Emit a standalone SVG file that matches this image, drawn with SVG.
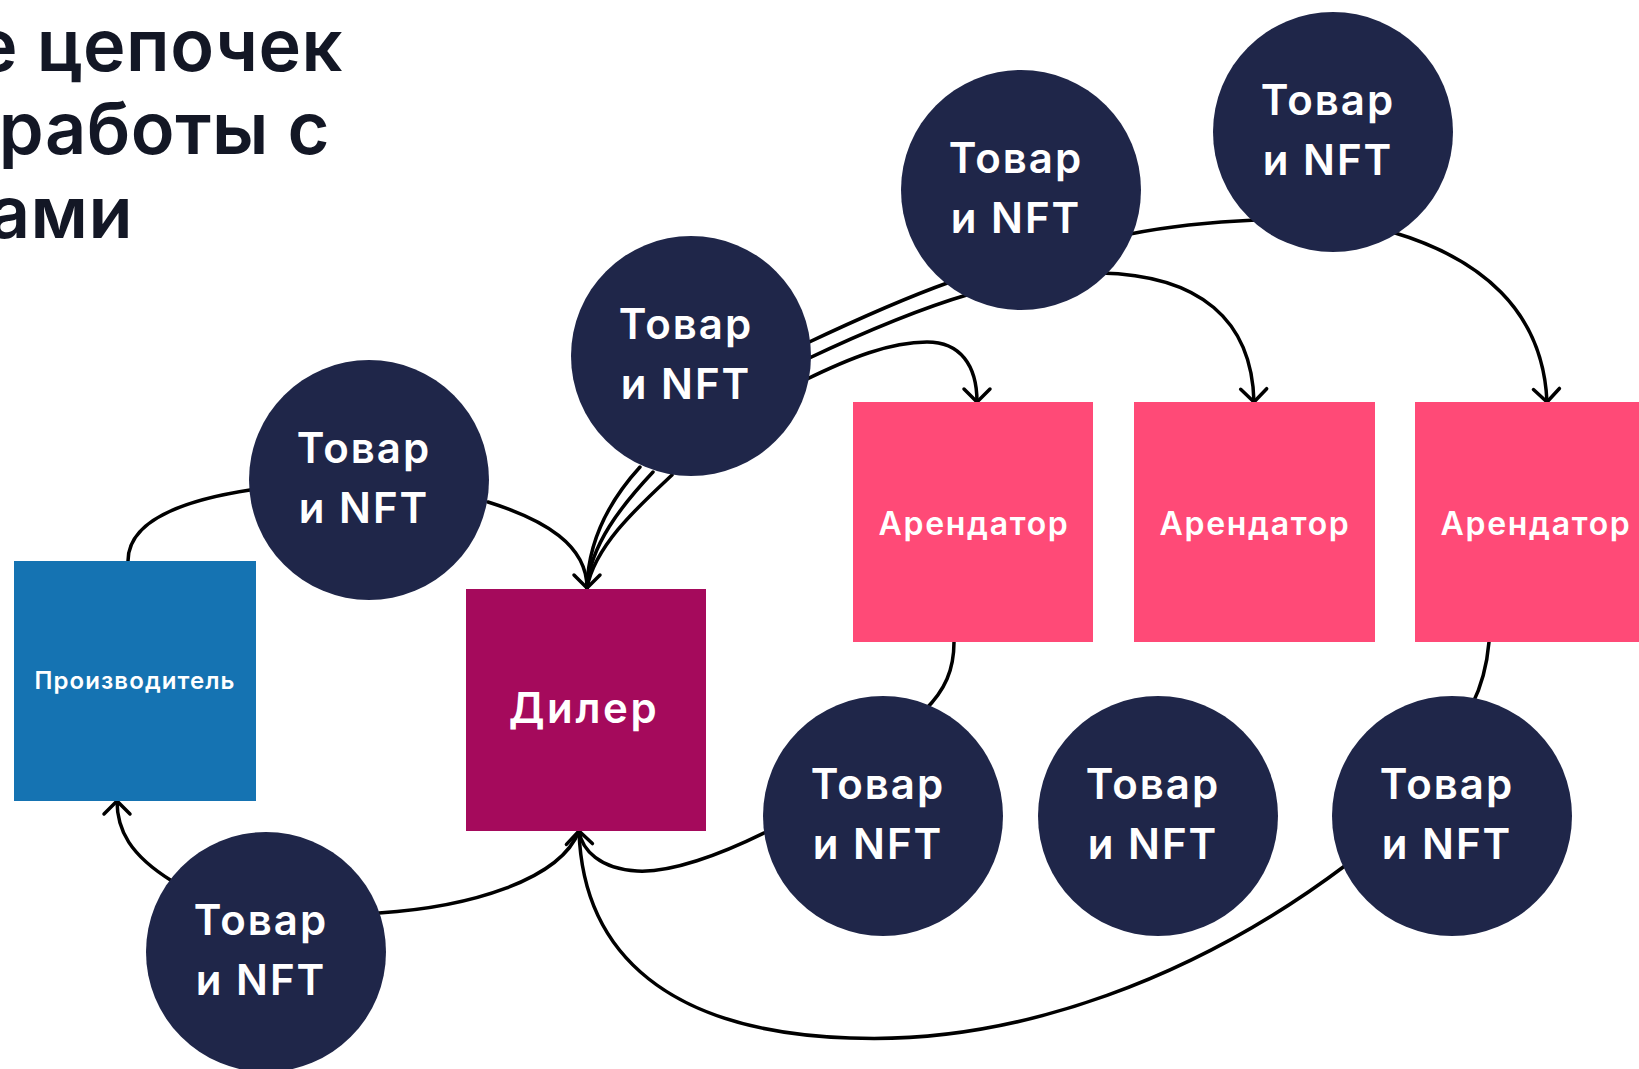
<svg xmlns="http://www.w3.org/2000/svg" width="1639" height="1069" viewBox="0 0 1639 1069">
<style>
.title{font-family:Inter,"Noto Sans","DejaVu Sans",sans-serif;font-weight:600;font-size:72px;fill:#131725;letter-spacing:0.5px}
.c{fill:#1F2649}
.ct{font-family:Inter,"Noto Sans","DejaVu Sans",sans-serif;font-weight:600;font-size:42px;fill:#fff;text-anchor:middle;letter-spacing:2px}
.lbl{font-family:Inter,"Noto Sans","DejaVu Sans",sans-serif;font-weight:600;fill:#fff;text-anchor:middle}
.ln{fill:none;stroke:#000;stroke-width:3.5;stroke-linecap:round}
</style>
<defs>
<marker id="arr" markerUnits="userSpaceOnUse" viewBox="-16 -16 20 32" markerWidth="20" markerHeight="32" refX="0" refY="0" orient="auto" overflow="visible">
<path d="M-13,-13 L0,0 L-13,13" fill="none" stroke="#000" stroke-width="3.5" stroke-linecap="round" stroke-linejoin="round"/>
</marker>
</defs>
<rect width="1639" height="1069" fill="#fff"/>
<g id="title">
<text class="title" x="343" y="71" text-anchor="end">е цепочек</text>
<text class="title" x="330" y="154" text-anchor="end">работы с</text>
<text class="title" x="133" y="238" text-anchor="end">ами</text>
</g>
<g id="connectors">
<path class="ln" d="M128,561 C128,520 185,500 250,490"/>
<path class="ln" d="M488,502 C545,520 587,545 587,588" marker-end="url(#arr)"/>
<path class="ln" d="M640,467 C610,500 588,540 587,588"/>
<path class="ln" d="M653,472 C622,505 590,545 587,588"/>
<path class="ln" d="M672,475 C640,505 595,545 587,588"/>
<path class="ln" d="M805,344 C860,318 905,298 950,282"/>
<path class="ln" d="M805,360 C862,333 915,310 970,294"/>
<path class="ln" d="M805,380 C850,358 890,342 927,342 C960,342 977,365 977,402" marker-end="url(#arr)"/>
<path class="ln" d="M1130,234 C1170,226 1210,222 1256,220"/>
<path class="ln" d="M1100,273 C1200,275 1252,320 1254,402" marker-end="url(#arr)"/>
<path class="ln" d="M1392,232 C1480,258 1543,310 1547,402" marker-end="url(#arr)"/>
<path class="ln" d="M172,881 C130,855 117,830 117,801" marker-end="url(#arr)"/>
<path class="ln" d="M379,913 C470,907 560,880 579,831"/>
<path class="ln" d="M768,831 C720,855 670,873 637,871 C600,869 582,850 579,831"/>
<path class="ln" d="M1346,865 C1200,975 1020,1045 850,1038 C670,1032 583,955 579,831" marker-end="url(#arr)"/>
<path class="ln" d="M954,642 C954,670 945,690 925,710"/>
<path class="ln" d="M1489,642 C1487,665 1482,685 1472,705"/>
</g>
<g id="producer">
<rect x="14" y="561" width="242" height="240" fill="#1573B2"/>
<text class="lbl" x="135" y="689" font-size="24" letter-spacing="1.1">Производитель</text>
</g>
<g id="dealer">
<rect x="466" y="589" width="240" height="242" fill="#A50A5C"/>
<text class="lbl" x="584" y="723" font-size="42" letter-spacing="2.6">Дилер</text>
</g>
<g id="tenant1">
<rect x="853" y="402" width="240" height="240" fill="#FF4A77"/>
<text class="lbl" x="974" y="535" font-size="32" letter-spacing="1.7">Арендатор</text>
</g>
<g id="tenant2">
<rect x="1134" y="402" width="241" height="240" fill="#FF4A77"/>
<text class="lbl" x="1255" y="535" font-size="32" letter-spacing="1.7">Арендатор</text>
</g>
<g id="tenant3">
<rect x="1415" y="402" width="241" height="240" fill="#FF4A77"/>
<text class="lbl" x="1536" y="535" font-size="32" letter-spacing="1.7">Арендатор</text>
</g>
<g id="item1"><circle class="c" cx="369" cy="480" r="120"/><text class="ct" x="364" y="463">Товар</text><text class="ct" x="364" y="523">и NFT</text></g>
<g id="item2"><circle class="c" cx="691" cy="356" r="120"/><text class="ct" x="686" y="339">Товар</text><text class="ct" x="686" y="399">и NFT</text></g>
<g id="item3"><circle class="c" cx="1021" cy="190" r="120"/><text class="ct" x="1016" y="173">Товар</text><text class="ct" x="1016" y="233">и NFT</text></g>
<g id="item4"><circle class="c" cx="1333" cy="132" r="120"/><text class="ct" x="1328" y="115">Товар</text><text class="ct" x="1328" y="175">и NFT</text></g>
<g id="item5"><circle class="c" cx="266" cy="952" r="120"/><text class="ct" x="261" y="935">Товар</text><text class="ct" x="261" y="995">и NFT</text></g>
<g id="item6"><circle class="c" cx="883" cy="816" r="120"/><text class="ct" x="878" y="799">Товар</text><text class="ct" x="878" y="859">и NFT</text></g>
<g id="item7"><circle class="c" cx="1158" cy="816" r="120"/><text class="ct" x="1153" y="799">Товар</text><text class="ct" x="1153" y="859">и NFT</text></g>
<g id="item8"><circle class="c" cx="1452" cy="816" r="120"/><text class="ct" x="1447" y="799">Товар</text><text class="ct" x="1447" y="859">и NFT</text></g>
</svg>
